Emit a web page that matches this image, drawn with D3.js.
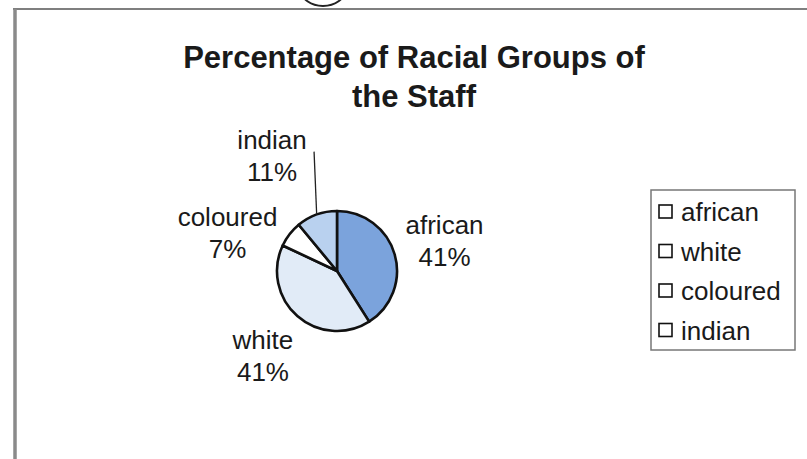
<!DOCTYPE html>
<html>
<head>
<meta charset="utf-8">
<script src="https://cdn.jsdelivr.net/npm/d3@7"></script>
<style>
  html, body { margin: 0; padding: 0; background: #fff; }
  svg { display: block; }
  text { font-family: "Liberation Sans", Arial, sans-serif; fill: #1a1a1a; }
</style>
</head>
<body>
<svg id="chart" width="807" height="459"></svg>
<script>
// Staff composition by racial group (percent)
const categories = ["african", "white", "coloured", "indian"];
const percentages = [41, 41, 7, 11];
const sliceColors = ["#7ba3dc", "#e1ebf7", "#ffffff", "#b9d1ef"];
const titleLines = ["Percentage of Racial Groups of", "the Staff"];

const data = categories.map((name, i) => ({ name, value: percentages[i] }));

const svg = d3.select("#chart");
const W = 807, H = 459;

// Page frame: rule across the top and a heavier rule down the left side
svg.append("line")
  .attr("x1", 13).attr("x2", W).attr("y1", 9).attr("y2", 9)
  .attr("stroke", "#555").attr("stroke-width", 1.6);
svg.append("line")
  .attr("x1", 15).attr("x2", 15).attr("y1", 9).attr("y2", H)
  .attr("stroke", "#8a8a8a").attr("stroke-width", 3.5);
// pen circle mark overlapping the top rule
svg.append("ellipse")
  .attr("cx", 323).attr("cy", -10).attr("rx", 22).attr("ry", 16)
  .attr("fill", "none").attr("stroke", "#222").attr("stroke-width", 2);

// Title
const title = svg.append("text")
  .attr("text-anchor", "middle")
  .attr("font-weight", "bold")
  .attr("font-size", 31);
titleLines.forEach((t, i) => {
  title.append("tspan")
    .attr("x", 414)
    .attr("y", 68 + i * 39)
    .text(t);
});

// Pie
const cx = 337, cy = 271, r = 60;
const pie = d3.pie().value(d => d.value).sort(null);
const arcs = pie(data);
const arc = d3.arc().innerRadius(0).outerRadius(r);
const color = d3.scaleOrdinal().domain(categories).range(sliceColors);

const g = svg.append("g").attr("transform", `translate(${cx},${cy})`);
g.selectAll("path.slice")
  .data(arcs)
  .join("path")
  .attr("class", "slice")
  .attr("d", arc)
  .attr("fill", d => color(d.data.name))
  .attr("stroke", "#111")
  .attr("stroke-width", 2.6)
  .attr("stroke-linejoin", "round");

// Data labels: placed around the slice mid-angle, some nudged clear of neighbours
const labelArc = d3.arc().innerRadius(112).outerRadius(112);
const nudge = { african: [0, 0], white: [0, 0], coloured: [-21, 30], indian: [-27, -11] };
const fmt = d => `${d}%`;

arcs.forEach(d => {
  const [x0, y0] = labelArc.centroid(d);
  const [nx, ny] = nudge[d.data.name];
  const lx = x0 + nx, ly = y0 + ny;
  const t = g.append("text")
    .attr("text-anchor", "middle")
    .attr("font-size", 26);
  t.append("tspan").attr("x", lx).attr("y", ly - 6).text(d.data.name);
  t.append("tspan").attr("x", lx).attr("y", ly + 26).text(fmt(d.data.value));

  if (d.data.name === "indian") {
    const mid = (d.startAngle + d.endAngle) / 2;
    g.append("line")
      .attr("x1", lx + 42).attr("y1", ly - 3)
      .attr("x2", Math.sin(mid) * r).attr("y2", -Math.cos(mid) * r)
      .attr("stroke", "#222").attr("stroke-width", 1.3);
  }
});

// Legend
const lg = svg.append("g").attr("transform", "translate(651,190)");
lg.append("rect")
  .attr("width", 144).attr("height", 160)
  .attr("fill", "#fff").attr("stroke", "#777").attr("stroke-width", 1.5);
const rows = lg.selectAll("g.item")
  .data(categories)
  .join("g")
  .attr("class", "item")
  .attr("transform", (d, i) => `translate(8,${22 + i * 39.5})`);
rows.append("rect")
  .attr("x", 0).attr("y", -7).attr("width", 13).attr("height", 13)
  .attr("fill", "#fff").attr("stroke", "#111").attr("stroke-width", 1.6);
rows.append("text")
  .attr("x", 22).attr("y", 9)
  .attr("font-size", 26)
  .text(d => d);
</script>
</body>
</html>
